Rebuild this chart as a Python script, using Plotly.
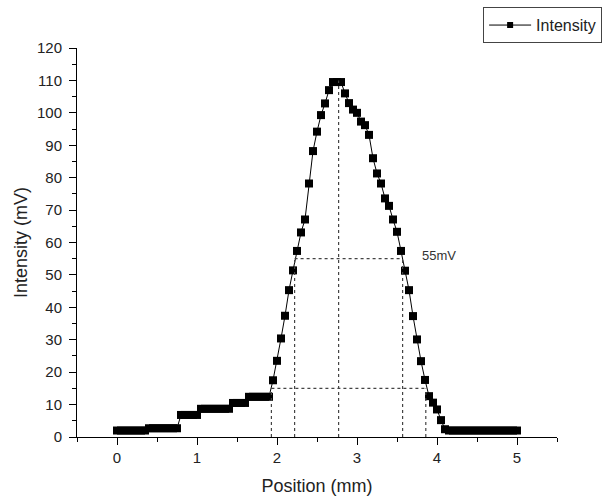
import plotly.graph_objects as go

# Position (mm)
position = [
    0.00, 0.05, 0.10, 0.15, 0.20, 0.25, 0.30, 0.35, 0.40, 0.45,
    0.50, 0.55, 0.60, 0.65, 0.70, 0.75, 0.80, 0.85, 0.90, 0.95,
    1.00, 1.05, 1.10, 1.15, 1.20, 1.25, 1.30, 1.35, 1.40, 1.45,
    1.50, 1.55, 1.60, 1.65, 1.70, 1.75, 1.80, 1.85, 1.90, 1.95,
    2.00, 2.05, 2.10, 2.15, 2.20, 2.25, 2.30, 2.35, 2.40, 2.45,
    2.50, 2.55, 2.60, 2.65, 2.70, 2.75, 2.80, 2.85, 2.90, 2.95,
    3.00, 3.05, 3.10, 3.15, 3.20, 3.25, 3.30, 3.35, 3.40, 3.45,
    3.50, 3.55, 3.60, 3.65, 3.70, 3.75, 3.80, 3.85, 3.90, 3.95,
    4.00, 4.05, 4.10, 4.15, 4.20, 4.25, 4.30, 4.35, 4.40, 4.45,
    4.50, 4.55, 4.60, 4.65, 4.70, 4.75, 4.80, 4.85, 4.90, 4.95,
    5.00,
]

# Intensity (mV)
intensity = [
    2.0, 2.0, 2.0, 2.0, 2.0, 2.0, 2.0, 2.0, 2.7, 2.7,
    2.7, 2.7, 2.7, 2.7, 2.7, 2.7, 6.8, 6.8, 6.8, 6.8,
    6.8, 8.7, 8.7, 8.7, 8.7, 8.7, 8.7, 8.7, 8.7, 10.5,
    10.5, 10.5, 10.5, 12.4, 12.4, 12.4, 12.4, 12.4, 12.4, 17.5,
    23.5, 30.4, 37.4, 45.3, 51.4, 57.4, 63.1, 67.1, 78.2, 88.2,
    94.2, 99.3, 102.9, 107.0, 109.5, 109.5, 109.5, 106.0, 103.0, 101.0,
    100.0, 97.3, 96.2, 93.2, 86.0, 81.3, 78.2, 73.6, 71.3, 67.1,
    63.3, 57.4, 51.3, 45.3, 37.3, 30.1, 23.4, 17.6, 12.6, 10.6,
    8.5, 5.2, 2.4, 2.0, 2.0, 2.0, 2.0, 2.0, 2.0, 2.0,
    2.0, 2.0, 2.0, 2.0, 2.0, 2.0, 2.0, 2.0, 2.0, 2.0,
    2.0,
]

# Guide lines
peak_pos = 2.77
peak_val = 110
half_level = 55
half_left, half_right = 2.22, 3.57
low_level = 15
low_left, low_right = 1.93, 3.86
half_label = "55mV"

x_ticks = [0, 1, 2, 3, 4, 5]
y_ticks = list(range(0, 121, 10))

FONT = "Liberation Sans, Arial, sans-serif"
TXT = "#222222"

fig = go.Figure()
fig.add_trace(go.Scatter(
    x=position, y=intensity, mode="lines+markers", name="Intensity",
    line=dict(color="black", width=1),
    marker=dict(symbol="square", size=8, color="black"),
    cliponaxis=False, showlegend=False,
))
# legend entry (smaller symbol, as in the original legend)
fig.add_trace(go.Scatter(
    x=[None], y=[None], mode="lines+markers", name="Intensity",
    line=dict(color="black", width=1),
    marker=dict(symbol="square", size=6, color="black"),
    showlegend=True,
))

dot = dict(color="#444444", width=1.2, dash="dot")
shapes = [
    dict(type="line", xref="x", yref="y", x0=peak_pos, x1=peak_pos, y0=0, y1=peak_val, line=dot),
    dict(type="line", xref="x", yref="y", x0=half_left, x1=half_right, y0=half_level, y1=half_level, line=dot),
    dict(type="line", xref="x", yref="y", x0=half_left, x1=half_left, y0=0, y1=half_level, line=dot),
    dict(type="line", xref="x", yref="y", x0=half_right, x1=half_right, y0=0, y1=half_level, line=dot),
    dict(type="line", xref="x", yref="y", x0=low_left, x1=low_right, y0=low_level, y1=low_level, line=dot),
    dict(type="line", xref="x", yref="y", x0=low_left, x1=low_left, y0=0, y1=low_level, line=dot),
    dict(type="line", xref="x", yref="y", x0=low_right, x1=low_right, y0=0, y1=low_level, line=dot),
]

fig.update_layout(
    width=603, height=504,
    margin=dict(l=77, r=46, t=48, b=67, autoexpand=False),
    paper_bgcolor="white", plot_bgcolor="white",
    font=dict(family=FONT, color=TXT, size=14),
    shapes=shapes,
    showlegend=True,
    legend=dict(
        x=1.094, xanchor="right", y=1.105, yanchor="top",
        bordercolor="#444444", borderwidth=1,
        font=dict(size=16, color=TXT),
        bgcolor="white",
        itemwidth=42,
    ),
    annotations=[dict(
        x=half_right + 0.22, y=half_level + 1, xref="x", yref="y",
        text=half_label, showarrow=False, xanchor="left", yanchor="middle",
        font=dict(size=13, color="#333333"),
    )],
)

fig.update_xaxes(
    range=[-0.5, 5.5], tickvals=x_ticks,
    showline=True, linecolor="black", linewidth=1,
    ticks="outside", ticklen=7, tickcolor="black",
    minor=dict(ticks="outside", ticklen=4, dtick=0.5, tick0=0, tickcolor="black"),
    showgrid=False, zeroline=False,
    title=dict(text="Position (mm)", font=dict(size=18, color=TXT), standoff=14),
    tickfont=dict(size=15),
)
fig.update_yaxes(
    range=[0, 120], tickvals=y_ticks,
    showline=True, linecolor="black", linewidth=1,
    ticks="outside", ticklen=7, tickcolor="black",
    minor=dict(ticks="outside", ticklen=4, dtick=5, tick0=0, tickcolor="black"),
    showgrid=False, zeroline=False,
    ticklabelstandoff=4,
    title=dict(text="Intensity (mV)", font=dict(size=18, color=TXT), standoff=4),
    tickfont=dict(size=15),
)

fig.write_html("out.html")
